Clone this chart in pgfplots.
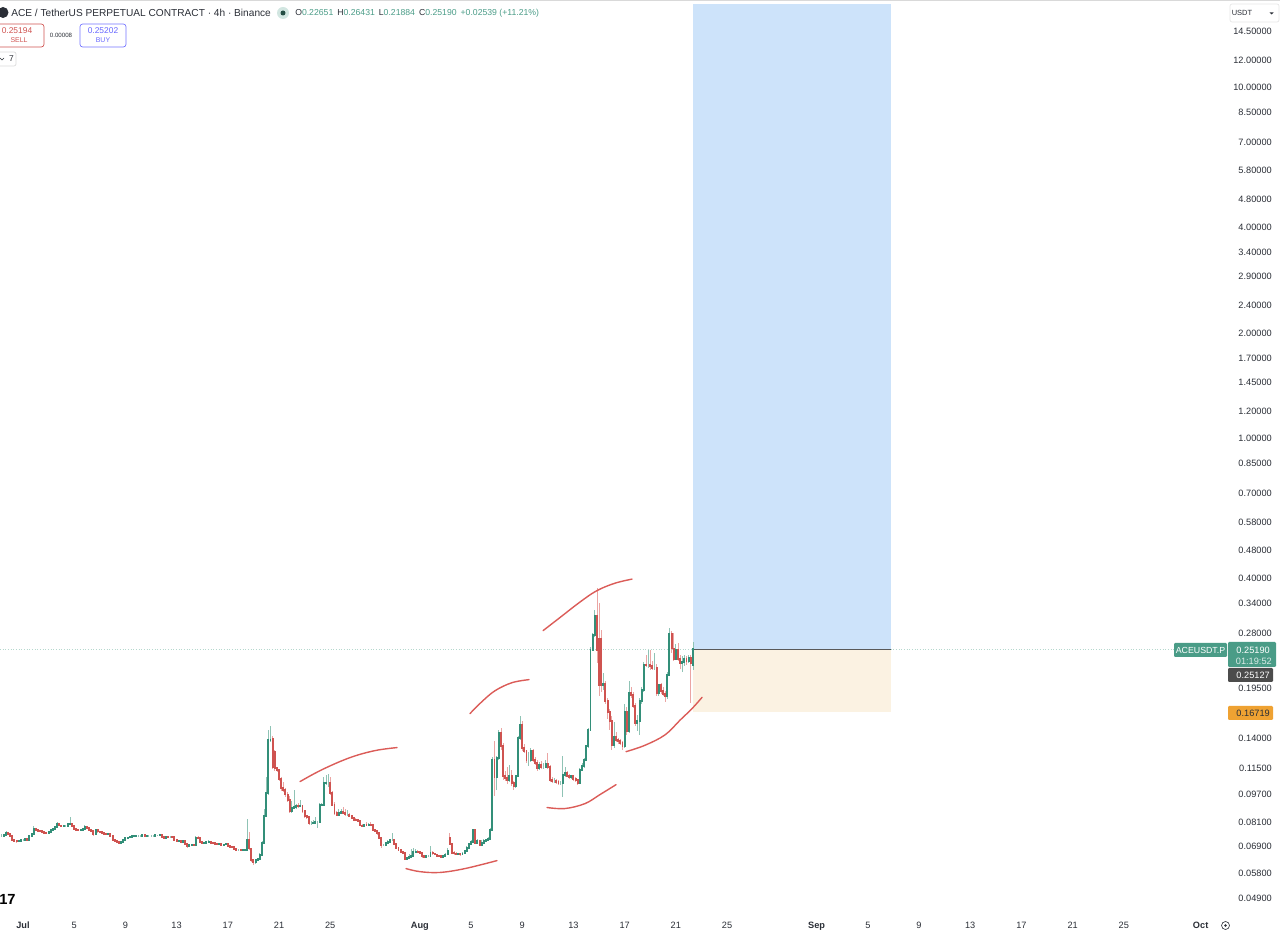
\documentclass[border=0pt]{standalone}
\usepackage{pgfplots}
\usepackage{pgfplotstable}
\usepackage{fontspec}
\setmainfont{Liberation Sans}
\pgfplotsset{compat=1.18}
\definecolor{upb}{HTML}{338F79}
\definecolor{dnb}{HTML}{CF5350}
\definecolor{upw}{HTML}{8FC3B5}
\definecolor{dnw}{HTML}{EBA5A3}
\definecolor{tvtext}{HTML}{2A2E36}
\definecolor{tag}{HTML}{4A9C87}
\definecolor{longb}{HTML}{CDE3FA}
\definecolor{shortb}{HTML}{FBF2E2}
\definecolor{penred}{HTML}{DB5C58}
\definecolor{tagorange}{HTML}{EFA232}
\definecolor{lastline}{HTML}{B5D8CE}
\pgfplotstableread{
x o h l c
-1.83 .0741 .0748 .0737 .0741
-1.67 .0741 .0749 .0737 .0741
-1.50 .0741 .0751 .0738 .0746
-1.33 .0746 .0762 .0743 .0754
-1.17 .0754 .0757 .0745 .0748
-1.00 .0748 .0750 .0738 .0741
-0.83 .0741 .0744 .0714 .0719
-0.67 .0719 .0722 .0712 .0716
-0.50 .0716 .0719 .0708 .0714
-0.33 .0714 .0720 .0711 .0717
-0.17 .0717 .0722 .0715 .0720
0 .0720 .0724 .0715 .0720
0.17 .0720 .0728 .0716 .0725
0.33 .0725 .0728 .0713 .0722
0.50 .0722 .0741 .0719 .0738
0.67 .0738 .0754 .0736 .0751
0.83 .0751 .0791 .0749 .0775
1.00 .0775 .0779 .0768 .0771
1.17 .0771 .0774 .0763 .0766
1.33 .0766 .0769 .0760 .0763
1.50 .0763 .0765 .0755 .0758
1.67 .0758 .0761 .0751 .0754
1.83 .0754 .0756 .0749 .0752
2.00 .0752 .0761 .0750 .0758
2.17 .0758 .0771 .0756 .0768
2.33 .0768 .0778 .0766 .0775
2.50 .0775 .0789 .0773 .0785
2.67 .0785 .0810 .0783 .0799
2.83 .0799 .0802 .0789 .0792
3.00 .0792 .0795 .0783 .0787
3.17 .0787 .0792 .0784 .0788
3.33 .0788 .0792 .0785 .0788
3.50 .0788 .0804 .0786 .0801
3.67 .0801 .0835 .0798 .0802
3.83 .0802 .0804 .0785 .0788
4.00 .0788 .0790 .0772 .0775
4.17 .0775 .0778 .0767 .0771
4.33 .0771 .0774 .0766 .0769
4.50 .0769 .0774 .0767 .0771
4.67 .0771 .0778 .0769 .0775
4.83 .0775 .0792 .0773 .0785
5.00 .0785 .0788 .0776 .0780
5.17 .0780 .0782 .0768 .0771
5.33 .0771 .0773 .0760 .0763
5.50 .0763 .0766 .0740 .0751
5.67 .0751 .0772 .0749 .0768
5.83 .0768 .0771 .0758 .0761
6.00 .0761 .0763 .0755 .0758
6.17 .0758 .0760 .0752 .0754
6.33 .0754 .0756 .0748 .0751
6.50 .0751 .0753 .0745 .0748
6.67 .0748 .0754 .0746 .0751
6.83 .0751 .0753 .0735 .0738
7.00 .0738 .0740 .0719 .0722
7.17 .0722 .0724 .0711 .0714
7.33 .0714 .0716 .0706 .0710
7.50 .0710 .0712 .0705 .0708
7.67 .0708 .0712 .0706 .0710
7.83 .0710 .0724 .0708 .0722
8.00 .0722 .0731 .0720 .0728
8.17 .0728 .0735 .0726 .0732
8.33 .0732 .0739 .0730 .0736
8.50 .0736 .0741 .0734 .0738
8.67 .0738 .0743 .0736 .0739
8.83 .0739 .0745 .0737 .0741
9.00 .0741 .0745 .0739 .0741
9.17 .0741 .0745 .0737 .0741
9.33 .0741 .0747 .0739 .0743
9.50 .0743 .0746 .0733 .0739
9.67 .0739 .0744 .0737 .0741
9.83 .0741 .0744 .0739 .0741
10.00 .0741 .0745 .0739 .0741
10.17 .0741 .0744 .0739 .0741
10.33 .0741 .0746 .0739 .0743
10.50 .0743 .0746 .0741 .0743
10.67 .0743 .0750 .0741 .0745
10.83 .0745 .0747 .0733 .0735
11.00 .0735 .0737 .0727 .0730
11.17 .0730 .0738 .0728 .0736
11.33 .0736 .0739 .0733 .0735
11.50 .0735 .0737 .0732 .0735
11.67 .0735 .0737 .0731 .0733
11.83 .0733 .0735 .0720 .0722
12.00 .0722 .0724 .0711 .0713
12.17 .0713 .0717 .0711 .0714
12.33 .0714 .0716 .0708 .0710
12.50 .0710 .0716 .0708 .0714
12.67 .0714 .0716 .0701 .0703
12.83 .0703 .0705 .0683 .0692
13.00 .0692 .0697 .0690 .0695
13.17 .0695 .0698 .0693 .0696
13.33 .0696 .0698 .0693 .0695
13.50 .0695 .0738 .0693 .0732
13.67 .0732 .0740 .0727 .0730
13.83 .0730 .0733 .0707 .0710
14.00 .0710 .0712 .0705 .0707
14.17 .0707 .0711 .0705 .0708
14.33 .0708 .0715 .0706 .0710
14.50 .0710 .0718 .0708 .0711
14.67 .0711 .0714 .0705 .0707
14.83 .0707 .0709 .0703 .0705
15.00 .0705 .0707 .0701 .0703
15.17 .0703 .0705 .0698 .0700
15.33 .0700 .0706 .0698 .0703
15.50 .0703 .0705 .0695 .0697
15.67 .0697 .0702 .0695 .0699
15.83 .0699 .0703 .0697 .0700
16.00 .0700 .0702 .0690 .0692
16.17 .0692 .0695 .0687 .0689
16.33 .0689 .0691 .0683 .0686
16.50 .0686 .0688 .0677 .0679
16.67 .0679 .0681 .0674 .0676
16.83 .0676 .0680 .0674 .0676
17.00 .0676 .0678 .0671 .0673
17.17 .0673 .0677 .0671 .0675
17.33 .0675 .0679 .0673 .0676
17.50 .0676 .0825 .0674 .0722
17.67 .0722 .0760 .0678 .0681
17.83 .0681 .0683 .0625 .0633
18.00 .0633 .0636 .0613 .0622
18.17 .0622 .0634 .0617 .0631
18.33 .0631 .0640 .0628 .0636
18.50 .0636 .0660 .0634 .0654
18.67 .0654 .0715 .0650 .0707
18.83 .0707 .0880 .0700 .0842
19.00 .0842 .1090 .0835 .0979
19.17 .0979 .1485 .0970 .1386
19.33 .1386 .1523 .1370 .1391
19.50 .1398 .1420 .1150 .1165
19.67 .1281 .1300 .1130 .1152
19.83 .1152 .1165 .1125 .1142
20.00 .1142 .1150 .1060 .1075
20.17 .1075 .1085 .0995 .1013
20.33 .1013 .1050 .0985 .1002
20.50 .1002 .1015 .0955 .0970
20.67 .0970 .0985 .0925 .0938
20.83 .0938 .0960 .0860 .0870
21.00 .0870 .0930 .0862 .0888
21.17 .0888 .0997 .0880 .0893
21.33 .0893 .0910 .0885 .0902
21.50 .0902 .0915 .0890 .0898
21.67 .0898 .0935 .0892 .0902
21.83 .0902 .0908 .0862 .0870
22.00 .0870 .0878 .0832 .0841
22.17 .0841 .0850 .0828 .0837
22.33 .0837 .0842 .0795 .0802
22.50 .0802 .0815 .0798 .0802
22.67 .0802 .0820 .0798 .0805
22.83 .0805 .0840 .0800 .0809
23.00 .0809 .0818 .0778 .0809
23.17 .0809 .0915 .0805 .0906
23.33 .0906 .0920 .0900 .0908
23.50 .0908 .1085 .0903 .1044
23.67 .1044 .1105 .1030 .1050
23.83 .1050 .1110 .1020 .1050
24.00 .1050 .1090 .0965 .0979
24.17 .0979 .0990 .0900 .0908
24.33 .0908 .0925 .0850 .0859
24.50 .0859 .0870 .0842 .0849
24.67 .0849 .0880 .0845 .0860
24.83 .0860 .0885 .0855 .0864
25.00 .0864 .0895 .0855 .0860
25.17 .0860 .0885 .0845 .0851
25.33 .0851 .0875 .0845 .0851
25.50 .0851 .0860 .0840 .0845
25.67 .0845 .0850 .0828 .0833
25.83 .0833 .0838 .0818 .0823
26.00 .0823 .0830 .0815 .0820
26.17 .0820 .0825 .0810 .0815
26.33 .0815 .0820 .0787 .0792
26.50 .0792 .0800 .0784 .0789
26.67 .0789 .0802 .0785 .0797
26.83 .0797 .0810 .0790 .0796
27.00 .0796 .0805 .0790 .0797
27.17 .0797 .0812 .0790 .0796
27.33 .0796 .0800 .0765 .0771
27.50 .0771 .0775 .0757 .0763
27.67 .0763 .0768 .0745 .0752
27.83 .0752 .0756 .0725 .0730
28.00 .0730 .0735 .0685 .0697
28.17 .0697 .0702 .0690 .0697
28.33 .0697 .0712 .0692 .0707
28.50 .0707 .0718 .0703 .0712
28.67 .0712 .0725 .0708 .0719
28.83 .0719 .0755 .0714 .0719
29.00 .0719 .0724 .0696 .0701
29.17 .0701 .0705 .0680 .0684
29.33 .0684 .0688 .0669 .0673
29.50 .0673 .0677 .0660 .0664
29.67 .0664 .0668 .0657 .0662
29.83 .0662 .0665 .0630 .0636
30.00 .0636 .0644 .0632 .0639
30.17 .0639 .0655 .0636 .0645
30.33 .0645 .0678 .0642 .0647
30.50 .0647 .0682 .0644 .0664
30.67 .0664 .0678 .0660 .0667
30.83 .0667 .0676 .0661 .0664
31.00 .0664 .0670 .0658 .0662
31.17 .0662 .0665 .0642 .0647
31.33 .0647 .0652 .0641 .0645
31.50 .0645 .0652 .0642 .0647
31.67 .0647 .0652 .0643 .0647
31.83 .0647 .0692 .0644 .0662
32.00 .0662 .0668 .0655 .0659
32.17 .0659 .0663 .0651 .0655
32.33 .0655 .0658 .0647 .0650
32.50 .0650 .0653 .0643 .0647
32.67 .0647 .0650 .0641 .0645
32.83 .0645 .0652 .0642 .0647
33.00 .0647 .0660 .0644 .0655
33.17 .0655 .0685 .0652 .0669
33.33 .0730 .0755 .0695 .0701
33.50 .0701 .0705 .0657 .0662
33.67 .0662 .0668 .0655 .0659
33.83 .0659 .0664 .0652 .0656
34.00 .0656 .0663 .0652 .0659
34.17 .0659 .0663 .0650 .0655
34.33 .0655 .0665 .0652 .0659
34.50 .0659 .0675 .0656 .0669
34.67 .0669 .0690 .0666 .0684
34.83 .0684 .0708 .0680 .0701
35.00 .0701 .0718 .0697 .0712
35.17 .0712 .0775 .0708 .0771
35.33 .0771 .0775 .0703 .0707
35.50 .0707 .0725 .0700 .0714
35.67 .0714 .0718 .0690 .0697
35.83 .0697 .0720 .0694 .0707
36.00 .0707 .0725 .0703 .0714
36.17 .0714 .0725 .0710 .0719
36.33 .0719 .0735 .0715 .0725
36.50 .0725 .0780 .0720 .0771
36.67 .0771 .1240 .0765 .1220
36.83 .1220 .1374 .0960 .1090
37.00 .1090 .1250 .1000 .1234
37.17 .1234 .1480 .1220 .1453
37.33 .1453 .1500 .1300 .1332
37.50 .1332 .1360 .1070 .1094
37.67 .1094 .1130 .1060 .1082
37.83 .1082 .1160 .1040 .1070
38.00 .1070 .1180 .1050 .1094
38.17 .1094 .1140 .1025 .1047
38.33 .1047 .1060 .1000 .1025
38.50 .1025 .1100 .1015 .1094
38.67 .1094 .1420 .1085 .1407
38.83 .1407 .1628 .1390 .1530
39.00 .1530 .1570 .1290 .1317
39.17 .1317 .1350 .1270 .1289
39.33 .1289 .1300 .1190 .1220
39.50 .1220 .1280 .1170 .1220
39.67 .1220 .1320 .1200 .1289
39.83 .1289 .1310 .1200 .1220
40.00 .1220 .1240 .1180 .1195
40.17 .1195 .1215 .1130 .1157
40.33 .1157 .1200 .1140 .1175
40.50 .1175 .1205 .1150 .1165
40.67 .1165 .1195 .1150 .1165
40.83 .1165 .1220 .1155 .1183
41.00 .1183 .1275 .1150 .1165
41.17 .1165 .1180 .1055 .1070
41.33 .1070 .1085 .1045 .1059
41.50 .1059 .1080 .1045 .1059
41.67 .1059 .1075 .1040 .1052
41.83 .1052 .1065 .1030 .1043
42.00 .1043 .1060 .1030 .1043
42.17 .1043 .1250 .0955 .1105
42.33 .1105 .1160 .1090 .1116
42.50 .1116 .1135 .1085 .1097
42.67 .1097 .1110 .1075 .1088
42.83 .1088 .1105 .1075 .1093
43.00 .1093 .1105 .1060 .1075
43.17 .1075 .1090 .1055 .1066
43.33 .1066 .1075 .1035 .1047
43.50 .1047 .1155 .1040 .1142
43.67 .1142 .1190 .1130 .1168
43.83 .1168 .1235 .1155 .1220
44.00 .1220 .1345 .1205 .1331
44.17 .1331 .1500 .1320 .1485
44.33 .1485 .2560 .1470 .2510
44.50 .2510 .2800 .2480 .2760
44.67 .2760 .3250 .2720 .3125
44.83 .3125 .3768 .2300 .2510
45.00 .2700 .3410 .1850 .1990
45.17 .2700 .2850 .1900 .1990
45.33 .1990 .2150 .1930 .2003
45.50 .2003 .2040 .1760 .1788
45.67 .1788 .1830 .1590 .1664
45.83 .1664 .1700 .1480 .1571
46.00 .1571 .1620 .1300 .1345
46.17 .1345 .1560 .1320 .1420
46.33 .1420 .1460 .1370 .1391
46.50 .1391 .1410 .1350 .1376
46.67 .1376 .1395 .1340 .1361
46.83 .1361 .1380 .1300 .1331
47.00 .1331 .1760 .1320 .1668
47.17 .1668 .1720 .1430 .1469
47.33 .1469 .2040 .1450 .1888
47.50 .1888 .1960 .1830 .1866
47.67 .1866 .1900 .1710 .1730
47.83 .1730 .1770 .1520 .1551
48.00 .1551 .1630 .1470 .1571
48.17 .1571 .1830 .1430 .1788
48.33 .1788 .1960 .1760 .1930
48.50 .1930 .2320 .1900 .2275
48.67 .2275 .2420 .2240 .2265
48.83 .2265 .2510 .2230 .2265
49.00 .2265 .2510 .2200 .2250
49.17 .2250 .2330 .2190 .2226
49.33 .2226 .2450 .2190 .2226
49.50 .2226 .2290 .1850 .1888
49.67 .1888 .2000 .1850 .1985
49.83 .1985 .2020 .1880 .1908
50.00 .1908 .1960 .1850 .1880
50.17 .1880 .1910 .1780 .1846
50.33 .1846 .2160 .1820 .2130
50.50 .2130 .2885 .2110 .2790
50.67 .2790 .2830 .2460 .2527
50.83 .2527 .2790 .2330 .2365
51.00 .2365 .2600 .2340 .2510
51.17 .2510 .2620 .2330 .2365
51.33 .2365 .2420 .2210 .2295
51.50 .2295 .2400 .2160 .2310
51.67 .2310 .2420 .2250 .2365
51.83 .2365 .2400 .2270 .2330
52.00 .2330 .2430 .2300 .2380
52.17 .2380 .2420 .1770 .2295
52.33 .22651 .26431 .21884 .25190
}\candles
\pgfplotsset{
  candle/.style n args={3}{draw=none,mark=none,forget plot,
    error bars/.cd,y dir=both,y explicit,error mark=none,
    error bar style={line width=#1,color=#2,solid,line cap=#3}},
  pen/.style={color=penred,line width=1.05pt,smooth,tension=.6,forget plot,mark=none,line cap=round},
}
\begin{document}
\begin{tikzpicture}
\useasboundingbox (0,0) rectangle (960pt,701.25pt);
\begin{axis}[
  at={(0,0)},anchor=south west,
  scale only axis,width=960pt,height=701.25pt,
  ymode=log,
  xmin=-1.797,xmax=98.2,
  ymin=0.03862,ymax=17.77,
  unbounded coords=discard,
  axis line style={draw=none},
  tick style={draw=none},
  ytick={14.5,12,10,8.5,7,5.8,4.8,4,3.4,2.9,2.4,2,1.7,1.45,1.2,1,.85,.7,.58,.48,.4,.34,.28,.195,.14,.115,.097,.081,.069,.058,.049},
  yticklabels={14.50000,12.00000,10.00000,8.50000,7.00000,5.80000,4.80000,4.00000,3.40000,2.90000,2.40000,2.00000,1.70000,1.45000,1.20000,1.00000,0.85000,0.70000,0.58000,0.48000,0.40000,0.34000,0.28000,0.19500,0.14000,0.11500,0.09700,0.08100,0.06900,0.05800,0.04900},
  yticklabel pos=right,
  yticklabel style={anchor=east,xshift=-6pt,font=\fontsize{6.9}{8}\selectfont,text=tvtext,inner sep=0pt},
  xtick={0,4,8,12,16,20,24,31,35,39,43,47,51,55,62,66,70,74,78,82,86,92},
  xticklabels={\textbf{Jul},5,9,13,17,21,25,\textbf{Aug},5,9,13,17,21,25,\textbf{Sep},5,9,13,17,21,25,\textbf{Oct}},
  xticklabel style={anchor=base,yshift=5.2pt,font=\fontsize{6.9}{8}\selectfont,text=tvtext,inner sep=0pt},
  major tick length=0pt,
  clip=true,
]
% long and short position boxes
\addplot[fill=longb,draw=none,forget plot] coordinates {(52.34,.2519) (67.8,.2519) (67.8,17.31) (52.34,17.31)} --cycle;
\addplot[fill=shortb,draw=none,forget plot] coordinates {(52.34,.16719) (67.8,.16719) (67.8,.2519) (52.34,.2519)} --cycle;
% last-price line
\addplot[draw=lastline,line width=.5pt,dash pattern=on .7pt off 1.3pt,forget plot] coordinates {(-1.8,.2519) (89.9,.2519)};
\addplot[draw=black!65,line width=.6pt,forget plot] coordinates {(52.34,.2519) (67.8,.2519)};
% wicks
\addplot[candle={.5pt}{upw}{butt}] table[
  x expr={\thisrow{c}>=\thisrow{o}?\thisrow{x}:nan},y=c,
  y error plus expr=\thisrow{h}-\thisrow{c},y error minus expr=\thisrow{c}-\thisrow{l}]{\candles};
\addplot[candle={.5pt}{dnw}{butt}] table[
  x expr={\thisrow{c}<\thisrow{o}?\thisrow{x}:nan},y=c,
  y error plus expr=\thisrow{h}-\thisrow{c},y error minus expr=\thisrow{c}-\thisrow{l}]{\candles};
% bodies
\addplot[candle={1.4pt}{upb}{rect}] table[
  x expr={\thisrow{c}>=\thisrow{o}?\thisrow{x}:nan},y=c,
  y error plus expr=0,y error minus expr=\thisrow{c}-\thisrow{o}]{\candles};
\addplot[candle={1.4pt}{dnb}{rect}] table[
  x expr={\thisrow{c}<\thisrow{o}?\thisrow{x}:nan},y=c,
  y error plus expr=\thisrow{o}-\thisrow{c},y error minus expr=0]{\candles};
% hand-drawn strokes
\addplot[pen] coordinates {(21.64,.1056) (23.36,.1142) (25.55,.1236) (27.5,.1294) (29.22,.1320)};
\addplot[pen] coordinates {(29.92,.0597) (31.02,.0585) (32.58,.0582) (34.53,.0597) (37.03,.0629)};
\addplot[pen] coordinates {(34.92,.1650) (35.86,.1785) (36.88,.1917) (38.2,.2020) (39.53,.2061)};
\addplot[pen] coordinates {(40.94,.0891) (42.34,.0885) (43.9,.0914) (45.08,.0970) (46.33,.1035)};
\addplot[pen] coordinates {(40.63,.2842) (41.95,.3097) (43.52,.3430) (44.84,.3695) (46.25,.3880) (47.58,.3985)};
\addplot[pen] coordinates {(47.11,.1285) (48.59,.1340) (50.16,.1435) (51.33,.1580) (52.27,.1705) (53.05,.1835)};
\end{axis}
% chart furniture, in image pixels
\begin{scope}[shift={(0,701.25pt)},x=.75pt,y=-.75pt,font=\fontsize{6.9}{8}\selectfont,text=tvtext]
\draw[black!15,line width=.5pt] (0,.4) -- (1280,.4);
% header
\fill[tvtext] (3,12.5) circle (5.5);
\node[anchor=west,inner sep=0pt,font=\fontsize{7.6}{10}\selectfont] at (11,13) {ACE / TetherUS PERPETUAL CONTRACT · 4h · Binance};
\fill[tag!25] (283,13) circle (6);
\fill[tag!50!black] (283,13) circle (2.5);
\node[anchor=west,inner sep=0pt,font=\fontsize{6.5}{8}\selectfont,text=tag] at (295,13) {\textcolor{tvtext}{O}0.22651\hspace{3pt}\textcolor{tvtext}{H}0.26431\hspace{3pt}\textcolor{tvtext}{L}0.21884\hspace{3pt}\textcolor{tvtext}{C}0.25190\hspace{3pt}+0.02539 (+11.21\%)};
% buttons
\draw[dnb,line width=.5pt,rounded corners=2pt] (-6,24) rectangle (44,47);
\node[text=dnb,inner sep=0pt,font=\fontsize{6.3}{8}\selectfont] at (17,30.5) {0.25194};
\node[text=dnb,inner sep=0pt,font=\fontsize{5.2}{7}\selectfont] at (19,40.5) {SELL};
\node[inner sep=0pt,font=\fontsize{4.6}{6}\selectfont] at (61,35) {0.00008};
\draw[blue!55!white,line width=.5pt,rounded corners=2pt] (80,24) rectangle (126,47);
\node[text=blue!60!white,inner sep=0pt,font=\fontsize{6.3}{8}\selectfont] at (103,30.5) {0.25202};
\node[text=blue!60!white,inner sep=0pt,font=\fontsize{5.2}{7}\selectfont] at (103,40.5) {BUY};
\draw[black!15,line width=.5pt,rounded corners=1.5pt] (-4,52) rectangle (16,66);
\draw[tvtext,line width=.4pt] (0,58) -- (2,60) -- (4,58);
\node[inner sep=0pt,font=\fontsize{6.3}{8}\selectfont] at (11.5,59) {7};
% currency selector
\draw[black!10,line width=.5pt,rounded corners=1.5pt] (1230,4) rectangle (1279,22);
\node[inner sep=0pt,font=\fontsize{5.6}{7}\selectfont] at (1242,13) {USDT};
\fill[tvtext] (1269.5,12.5) -- (1273.5,12.5) -- (1271.5,14.5) -- cycle;
% price labels
\fill[tag,rounded corners=.8pt] (1174,643) rectangle (1227,657);
\node[text=white,inner sep=0pt,font=\fontsize{6.6}{8}\selectfont] at (1200.5,650) {ACEUSDT.P};
\fill[tag,rounded corners=.8pt] (1228,642) rectangle (1276,667);
\node[text=white,anchor=east,inner sep=0pt] at (1270,650) {0.25190};
\node[text=white!80!tag,anchor=east,inner sep=0pt] at (1272,661) {01:19:52};
\fill[black!70,rounded corners=.8pt] (1228,668) rectangle (1273,682);
\node[text=white,anchor=east,inner sep=0pt] at (1270,675) {0.25127};
\fill[tagorange,rounded corners=.8pt] (1228,706) rectangle (1273,720);
\node[anchor=east,inner sep=0pt] at (1270,713) {0.16719};
% logo and settings
\node[anchor=west,inner sep=0pt,font=\bfseries\fontsize{11}{12}\selectfont,text=black] at (-1,899) {17};
\draw[tvtext,line width=.45pt] (1225.5,925.5) circle (4);
\fill[tvtext] (1225.5,925.5) circle (1.3);
\end{scope}
\end{tikzpicture}
\end{document}
